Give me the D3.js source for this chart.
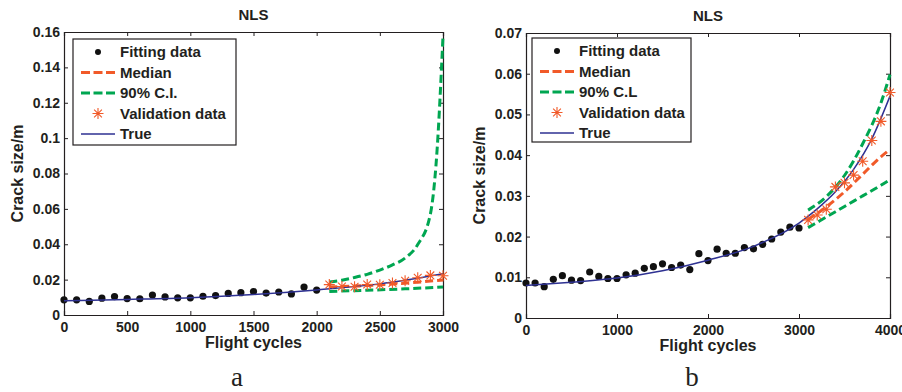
<!DOCTYPE html>
<html><head><meta charset="utf-8">
<script src="https://cdn.jsdelivr.net/npm/d3@7"></script>
<style>
html,body{margin:0;padding:0;background:#fff;}
svg text{font-family:"Liberation Sans",Arial,Helvetica,sans-serif;font-weight:bold;fill:#231f20;}
</style></head>
<body>
<svg id="chart" width="902" height="392"></svg>
<script>
// ---------- data ----------
const fitCycles = [0,100,200,300,400,500,600,700,800,900,1000,1100,1200,1300,1400,1500,1600,1700,1800,1900,2000,2100,2200,2300,2400,2500,2600,2700,2800,2900,3000];
const fitCrack  = [0.0086,0.0086,0.0077,0.0095,0.0104,0.0093,0.0092,0.0113,0.0102,0.0097,0.0097,0.0106,0.0110,0.0122,0.0126,0.0133,0.0124,0.0130,0.0119,0.0158,0.0141,0.0169,0.0159,0.0159,0.0173,0.0170,0.0181,0.0194,0.0211,0.0223,0.0221];

const trueCycles = [0,500,1000,1500,2000,2500,3000,3200,3400,3600,3800,4000];
const trueCrack  = [0.0080,0.0088,0.0098,0.0116,0.0142,0.0176,0.0233,0.0268,0.0310,0.0365,0.0440,0.0545];

// panel a (prediction from 2000 cycles)
const valCyclesA = [2100,2200,2300,2400,2500,2600,2700,2800,2900,3000];
const valCrackA  = [0.0172,0.0161,0.0160,0.0172,0.0171,0.0181,0.0194,0.0211,0.0224,0.0222];
const medCyclesA = [2100,2400,2700,3000];
const medCrackA  = [0.0158,0.0167,0.0180,0.0198];
const upCyclesA  = [2100,2200,2300,2400,2500,2600,2700,2800,2900,2950,3000];
const upCrackA   = [0.0186,0.0197,0.0212,0.0230,0.0254,0.0283,0.0322,0.0398,0.0570,0.0900,0.1575];
const loCyclesA  = [2100,2400,2700,3000];
const loCrackA   = [0.0133,0.0140,0.0148,0.0158];

// panel b (prediction from 3000 cycles)
const valCyclesB = [3100,3200,3300,3400,3500,3600,3700,3800,3900,4000];
const valCrackB  = [0.0241,0.0253,0.0267,0.0322,0.0332,0.0351,0.0385,0.0436,0.0483,0.0554];
const medCyclesB = [3100,3300,3500,3700,3900,4000];
const medCrackB  = [0.0242,0.0273,0.0310,0.0353,0.0396,0.0414];
const upCyclesB  = [3100,3300,3500,3700,3900,4000];
const upCrackB   = [0.0265,0.0298,0.0350,0.0428,0.0528,0.0598];
const loCyclesB  = [3100,3300,3500,3700,3900,4000];
const loCrackB   = [0.0222,0.0248,0.0274,0.0300,0.0326,0.0340];

const xTicksA = [0,500,1000,1500,2000,2500,3000];
const yTicksA = [0,0.02,0.04,0.06,0.08,0.1,0.12,0.14,0.16];
const xTicksB = [0,1000,2000,3000,4000];
const yTicksB = [0,0.01,0.02,0.03,0.04,0.05,0.06,0.07];

const legendLabels = ["Fitting data","Median","90% C.I.","Validation data","True"];
const legendLabelsB = ["Fitting data","Median","90% C.L","Validation data","True"];

const COL_MED = "#f15a29", COL_CI = "#00a651", COL_TRUE = "#2e3192", COL_TXT="#231f20";

const svg = d3.select("#chart");

function zip(xs, ys){ return xs.map((x,i)=>[x, ys[i]]); }

function starPath(r){
  const d = r*0.7071;
  return `M${-r},0L${r},0M0,${-r}L0,${r}M${-d},${-d}L${d},${d}M${-d},${d}L${d},${-d}`;
}

function panel(cfg){
  const g = svg.append("g");
  const x = d3.scaleLinear().domain(cfg.xDomain).range([cfg.left, cfg.right]);
  const y = d3.scaleLinear().domain(cfg.yDomain).range([cfg.bottom, cfg.top]);
  const tickLen = 4;

  const fmt = d => d===0 ? "0" : String(+d.toFixed(3));
  const bx = g.append("g").attr("transform",`translate(0,${cfg.bottom})`)
    .call(d3.axisBottom(x).tickValues(cfg.xTicks).tickSize(-tickLen).tickPadding(7).tickFormat(d=>String(d)));
  const tx = g.append("g").attr("transform",`translate(0,${cfg.top})`)
    .call(d3.axisTop(x).tickValues(cfg.xTicks).tickSize(-tickLen).tickFormat(""));
  const ly = g.append("g").attr("transform",`translate(${cfg.left},0)`)
    .call(d3.axisLeft(y).tickValues(cfg.yTicks).tickSize(-tickLen).tickPadding(4).tickFormat(fmt));
  const ry = g.append("g").attr("transform",`translate(${cfg.right},0)`)
    .call(d3.axisRight(y).tickValues(cfg.yTicks).tickSize(-tickLen).tickFormat(""));
  [bx,tx,ly,ry].forEach(a=>{
    a.selectAll("path.domain").attr("stroke",COL_TXT).attr("stroke-width",1.2);
    a.selectAll(".tick line").attr("stroke",COL_TXT).attr("stroke-width",1);
    a.selectAll(".tick text").attr("font-size",14).attr("font-family",null).attr("fill",COL_TXT);
  });
  bx.selectAll(".tick text").attr("dy","0.71em");

  const line = d3.line().x(d=>x(d[0])).y(d=>y(d[1])).curve(d3.curveMonotoneX);

  g.append("g").selectAll("circle").data(zip(cfg.fitX, cfg.fitY)).join("circle")
    .attr("cx",d=>x(d[0])).attr("cy",d=>y(d[1])).attr("r",3.6).attr("fill","#111");

  [cfg.up, cfg.lo].forEach(s=>{
    g.append("path").datum(s).attr("d",line).attr("fill","none")
      .attr("stroke",COL_CI).attr("stroke-width",3).attr("stroke-dasharray","8,4");
  });
  g.append("path").datum(cfg.med).attr("d",line).attr("fill","none")
    .attr("stroke",COL_MED).attr("stroke-width",3).attr("stroke-dasharray","8,4");
  g.append("path").datum(cfg.tru).attr("d",line).attr("fill","none")
    .attr("stroke",COL_TRUE).attr("stroke-width",1.5);
  g.append("g").selectAll("path").data(cfg.val).join("path")
    .attr("transform",d=>`translate(${x(d[0])},${y(d[1])})`)
    .attr("d",starPath(5.5)).attr("fill","none").attr("stroke",COL_MED).attr("stroke-width",1.1);

  g.append("text").attr("x",(cfg.left+cfg.right)/2).attr("y",cfg.top-12)
    .attr("text-anchor","middle").attr("font-size",15).text("NLS");
  g.append("text").attr("x",(cfg.left+cfg.right)/2).attr("y",cfg.bottom+33)
    .attr("text-anchor","middle").attr("font-size",16).text("Flight cycles");
  g.append("text").attr("transform",`translate(${cfg.ylabX},${(cfg.top+cfg.bottom)/2}) rotate(-90)`)
    .attr("text-anchor","middle").attr("font-size",16).text("Crack size/m");
  g.append("text").attr("x",cfg.capX).attr("y",386)
    .attr("text-anchor","middle").attr("font-size",27)
    .style("font-family","'Liberation Serif','Times New Roman',serif").style("font-weight","normal")
    .text(cfg.cap);

  const L = cfg.legend;
  const lg = g.append("g");
  lg.append("rect").attr("x",L.x).attr("y",L.y).attr("width",L.w).attr("height",L.h)
    .attr("fill","#fff").attr("stroke",COL_TXT).attr("stroke-width",1.2);
  const sx0 = L.x+8, sx1 = L.x+42, tx0 = L.x+47;
  cfg.labels.forEach((lab,i)=>{
    const yy = L.y + 13 + i*20.5;
    if(i===0) lg.append("circle").attr("cx",(sx0+sx1)/2).attr("cy",yy).attr("r",3).attr("fill","#111");
    if(i===1||i===2) lg.append("line").attr("x1",sx0).attr("x2",sx1).attr("y1",yy).attr("y2",yy)
      .attr("stroke", i===1?COL_MED:COL_CI).attr("stroke-width",3).attr("stroke-dasharray","9,3.5");
    if(i===3) lg.append("path").attr("transform",`translate(${(sx0+sx1)/2},${yy})`)
      .attr("d",starPath(5.5)).attr("fill","none").attr("stroke",COL_MED).attr("stroke-width",1.1);
    if(i===4) lg.append("line").attr("x1",sx0).attr("x2",sx1).attr("y1",yy).attr("y2",yy)
      .attr("stroke",COL_TRUE).attr("stroke-width",1.5);
    lg.append("text").attr("x",tx0).attr("y",yy).attr("dy","0.36em").attr("font-size",15).text(lab);
  });
}

panel({
  left:64, right:443, top:32, bottom:315,
  xDomain:[0,3000], yDomain:[0,0.16], xTicks:xTicksA, yTicks:yTicksA,
  fitX:fitCycles.slice(0,21), fitY:fitCrack.slice(0,21),
  up:zip(upCyclesA,upCrackA), lo:zip(loCyclesA,loCrackA), med:zip(medCyclesA,medCrackA),
  tru:zip(trueCycles.slice(0,7),trueCrack.slice(0,7)), val:zip(valCyclesA,valCrackA),
  ylabX:23, capX:237, cap:"a",
  legend:{x:73,y:39,w:163,h:106}, labels:legendLabels
});
panel({
  left:526, right:890, top:33, bottom:318,
  xDomain:[0,4000], yDomain:[0,0.07], xTicks:xTicksB, yTicks:yTicksB,
  fitX:fitCycles, fitY:fitCrack,
  up:zip(upCyclesB,upCrackB), lo:zip(loCyclesB,loCrackB), med:zip(medCyclesB,medCrackB),
  tru:zip(trueCycles,trueCrack), val:zip(valCyclesB,valCrackB),
  ylabX:485, capX:692, cap:"b",
  legend:{x:532,y:38,w:159,h:104}, labels:legendLabelsB
});
</script>
</body></html>
